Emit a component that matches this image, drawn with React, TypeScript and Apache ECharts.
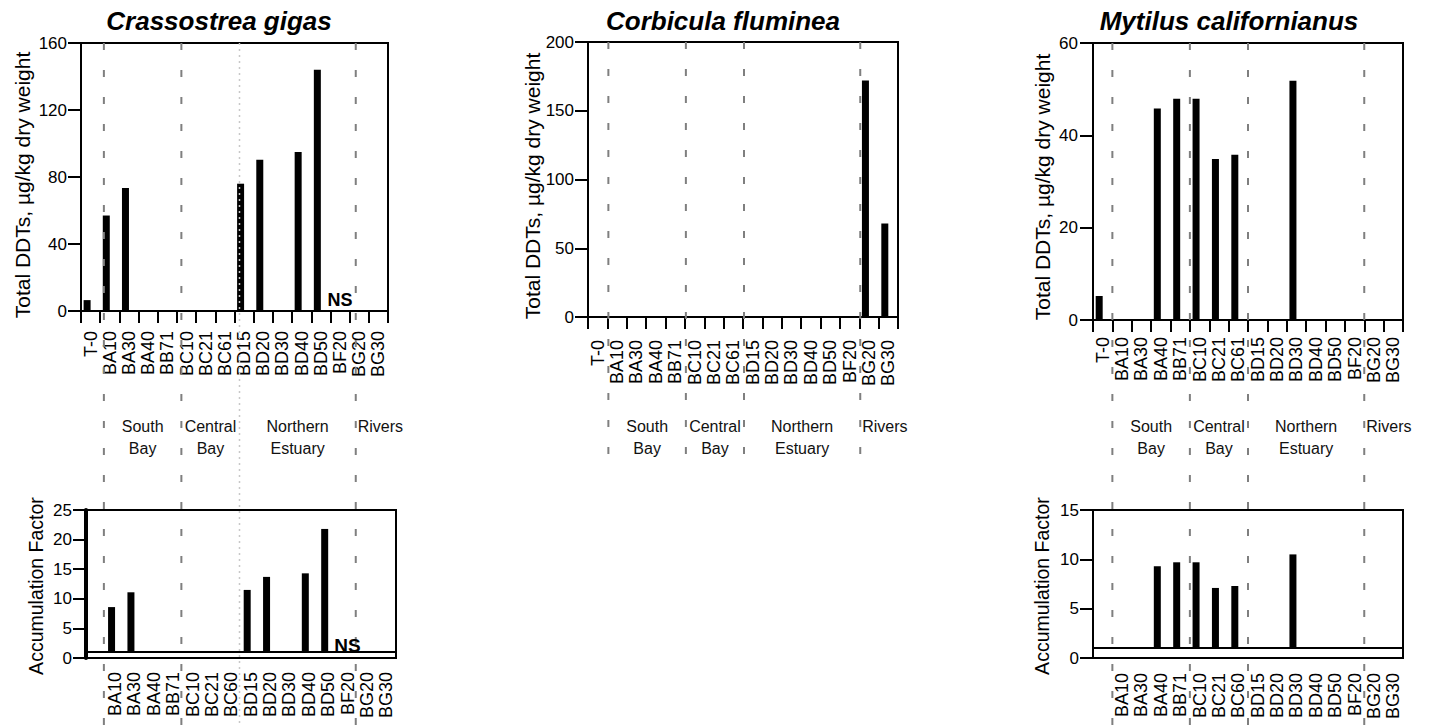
import React, { useEffect, useRef } from "react";
import * as echarts from "echarts";

// ---------- data ----------
const upperCats = ["T-0", "BA10", "BA30", "BA40", "BB71", "BC10", "BC21", "BC61", "BD15", "BD20", "BD30", "BD40", "BD50", "BF20", "BG20", "BG30"];
const lowerCats = ["", "BA10", "BA30", "BA40", "BB71", "BC10", "BC21", "BC60", "BD15", "BD20", "BD30", "BD40", "BD50", "BF20", "BG20", "BG30"];

const crassostreaDDT = [6.5, 57, 73.5, null, null, null, null, null, 76, 90.3, null, 95, 144, null, null, null];
const crassostreaAF = [null, 8.6, 11.1, null, null, null, null, null, 11.5, 13.7, null, 14.3, 21.8, null, null, null];
const corbiculaDDT = [null, null, null, null, null, null, null, null, null, null, null, null, null, null, 172, 68];
const mytilusDDT = [5.2, null, null, 45.8, 47.9, 47.9, 34.9, 35.8, null, null, 51.8, null, null, null, null, null];
const mytilusAF = [null, null, null, 9.3, 9.7, 9.7, 7.1, 7.3, null, null, 10.5, null, null, null, null, null];

const titles = ["Crassostrea gigas", "Corbicula fluminea", "Mytilus californianus"];
const ddtName = "Total DDTs, \u00b5g/kg dry weight";
const afName = "Accumulation Factor";
const regionNames = ["South\nBay", "Central\nBay", "Northern\nEstuary", "Rivers"];
const regionStarts = ["BA10", "BC10", "BD15", "BG20"];
const afBaseline = 1;
const notSampledLabel = "NS";
const notSampledCat = "BF20";

// axis ranges [max, interval]
const crassDDTAxis = [160, 40];
const crassAFAxis = [25, 5];
const corbDDTAxis = [200, 50];
const mytDDTAxis = [60, 20];
const mytAFAxis = [15, 5];

// ---------- layout ----------
const FONT = "'Liberation Sans', Arial, Helvetica, sans-serif";
const INK = "#000";
const grids = [
  { left: 81, top: 43, width: 307, height: 268 },
  { left: 86, top: 510, width: 310, height: 148 },
  { left: 588, top: 42, width: 310, height: 275 },
  { left: 1093, top: 43, width: 310, height: 277 },
  { left: 1093, top: 510, width: 310, height: 148 },
];
// rotated axis-name placement: [x centre, y centre, font size]
const axisNames = [
  { text: ddtName, x: 22, y: 185, size: 21 },
  { text: afName, x: 36, y: 586, size: 19.5 },
  { text: ddtName, x: 532, y: 186, size: 21 },
  { text: ddtName, x: 1042, y: 187, size: 21 },
  { text: afName, x: 1042, y: 586, size: 19.5 },
];

function xUpper(gi: number, margin: number) {
  return {
    type: "category", gridIndex: gi, data: upperCats, boundaryGap: true,
    axisLine: { show: true, lineStyle: { color: INK, width: 2 } },
    axisTick: { show: true, interval: 0, length: 12, lineStyle: { color: INK, width: 2 } },
    axisLabel: { interval: 0, rotate: 90, margin, fontSize: 18, color: INK, fontFamily: FONT },
    splitLine: { show: false },
  };
}
function xLower(gi: number, margin: number) {
  return {
    type: "category", gridIndex: gi, data: lowerCats, boundaryGap: true,
    axisLine: { show: true, lineStyle: { color: INK, width: 2 } },
    axisTick: { show: false },
    axisLabel: { interval: 0, rotate: 90, margin, fontSize: 18, color: INK, fontFamily: FONT },
    splitLine: { show: false },
  };
}
function yAxis(gi: number, range: number[], lineW = 2, labelMargin = 14) {
  return {
    type: "value", gridIndex: gi, min: 0, max: range[0], interval: range[1],
    axisLine: { show: true, lineStyle: { color: INK, width: lineW } },
    axisTick: { show: true, length: 13, lineStyle: { color: INK, width: 2 } },
    axisLabel: { margin: labelMargin, fontSize: 17, color: INK, fontFamily: FONT },
    splitLine: { show: false },
  };
}
function upperSeries(gi: number, data: (number | null)[]) {
  return [
    { type: "bar", name: "ddt" + gi, xAxisIndex: gi, yAxisIndex: gi, data, barWidth: 7, barGap: "0%", itemStyle: { color: INK }, silent: true },
    { type: "bar", name: "pad" + gi, xAxisIndex: gi, yAxisIndex: gi, data: data.map(() => null), barWidth: 7, barGap: "0%", silent: true },
  ];
}
function lowerSeries(gi: number, data: (number | null)[]) {
  return [
    {
      type: "bar", name: "base" + gi, stack: "af" + gi, xAxisIndex: gi, yAxisIndex: gi,
      data: data.map((v) => (v == null ? null : afBaseline)), barWidth: 7, barGap: "0%",
      itemStyle: { color: "rgba(0,0,0,0)" }, silent: true,
      markLine: {
        silent: true, symbol: "none", label: { show: false },
        lineStyle: { color: INK, width: 2, type: "solid" },
        data: [{ yAxis: afBaseline }],
      },
    },
    {
      type: "bar", name: "af" + gi, stack: "af" + gi, xAxisIndex: gi, yAxisIndex: gi,
      data: data.map((v) => (v == null ? null : v - afBaseline)), barWidth: 7, barGap: "0%",
      itemStyle: { color: INK }, silent: true,
    },
    { type: "bar", name: "pad" + gi, xAxisIndex: gi, yAxisIndex: gi, data: data.map(() => null), barWidth: 7, barGap: "0%", silent: true },
  ];
}

export default function App() {
  const ref = useRef<HTMLDivElement>(null);
  useEffect(() => {
    if (!ref.current) return;
    const chart = echarts.init(ref.current, undefined, { renderer: "svg" });
    const option: any = {
      animation: false,
      backgroundColor: "#fff",
      textStyle: { fontFamily: FONT },
      grid: grids.map((g) => ({ ...g, show: true, borderColor: INK, borderWidth: 2, backgroundColor: "transparent", containLabel: false })),
      xAxis: [xUpper(0, 20), xLower(1, 14), xUpper(2, 23), xUpper(3, 17), xLower(4, 15)],
      yAxis: [
        yAxis(0, crassDDTAxis),
        yAxis(1, crassAFAxis, 4),
        yAxis(2, corbDDTAxis),
        yAxis(3, mytDDTAxis, 2, 15),
        yAxis(4, mytAFAxis),
      ],
      series: [
        ...upperSeries(0, crassostreaDDT),
        ...lowerSeries(1, crassostreaAF),
        ...upperSeries(2, corbiculaDDT),
        ...upperSeries(3, mytilusDDT),
        ...lowerSeries(4, mytilusAF),
      ],
    };
    chart.setOption(option);

    const px = (xi: number, cat: string) => chart.convertToPixel({ xAxisIndex: xi } as any, cat) as unknown as number;
    const py = (yi: number, v: number) => chart.convertToPixel({ yAxisIndex: yi } as any, v) as unknown as number;

    const panels = [
      { xAxis: 1, topAxis: 0, topValue: crassDDTAxis[0], offset: -1.5, bottom: 725, titleX: 219, dotted: 2 },
      { xAxis: 2, topAxis: 2, topValue: corbDDTAxis[0], offset: 1, bottom: 462, titleX: 723, dotted: -1 },
      { xAxis: 4, topAxis: 3, topValue: mytDDTAxis[0], offset: 0, bottom: 725, titleX: 1229, dotted: -1 },
    ];
    const gfx: any[] = [];
    axisNames.forEach((n) => {
      gfx.push({
        type: "text", x: n.x, y: n.y, rotation: Math.PI / 2, z: 100, silent: true,
        style: { text: n.text, fontSize: n.size, fontFamily: FONT, fill: INK, align: "center", verticalAlign: "middle", textAlign: "center", textVerticalAlign: "middle" },
      });
    });
    panels.forEach((p, pi) => {
      gfx.push({
        type: "text", x: p.titleX, y: 20.5, z: 100, silent: true,
        style: { text: titles[pi], fontSize: 26, fontWeight: "bold", fontStyle: "italic", fontFamily: FONT, fill: INK, align: "center", verticalAlign: "middle", textAlign: "center", textVerticalAlign: "middle" },
      });
      const band = px(p.xAxis, "BA30") - px(p.xAxis, "BA10");
      const xs = regionStarts.map((c) => px(p.xAxis, c) - band / 2 + p.offset);
      const top = py(p.topAxis, p.topValue);
      xs.forEach((x, i) => {
        const dotted = i === p.dotted;
        gfx.push({
          type: "line", z: 100, silent: true,
          shape: { x1: x, y1: top, x2: x, y2: p.bottom },
          style: dotted
            ? { stroke: "#c8c8c8", lineWidth: 1.5, lineDash: [2, 4] }
            : { stroke: "#7f7f7f", lineWidth: 2, lineDash: [7, 20] },
        });
      });
      regionNames.forEach((name, i) => {
        const last = i === regionNames.length - 1;
        gfx.push({
          type: "text", z: 100, silent: true,
          x: last ? xs[i] + 2 : (xs[i] + xs[i + 1]) / 2,
          y: last ? 426 : 437,
          style: {
            text: name, fontSize: 16, lineHeight: 22, fontFamily: FONT, fill: "#111",
            align: last ? "left" : "center", textAlign: last ? "left" : "center",
            verticalAlign: "middle", textVerticalAlign: "middle",
          },
        });
      });
    });
    // NS markers (Crassostrea, not sampled)
    gfx.push({
      type: "text", z: 100, silent: true, x: px(0, notSampledCat), y: py(0, 0) - 11.5,
      style: { text: notSampledLabel, fontSize: 18, fontWeight: "bold", fontFamily: FONT, fill: INK, align: "center", textAlign: "center", verticalAlign: "middle", textVerticalAlign: "middle" },
    });
    gfx.push({
      type: "text", z: 100, silent: true, x: px(1, notSampledCat), y: py(1, afBaseline) - 7,
      style: { text: notSampledLabel, fontSize: 19, fontWeight: "bold", fontFamily: FONT, fill: INK, align: "center", textAlign: "center", verticalAlign: "middle", textVerticalAlign: "middle" },
    });
    chart.setOption({ graphic: gfx });
    return () => chart.dispose();
  }, []);
  return <div ref={ref} style={{ position: "absolute", left: 0, top: 0, width: 1432, height: 725, background: "#fff" }} />;
}
